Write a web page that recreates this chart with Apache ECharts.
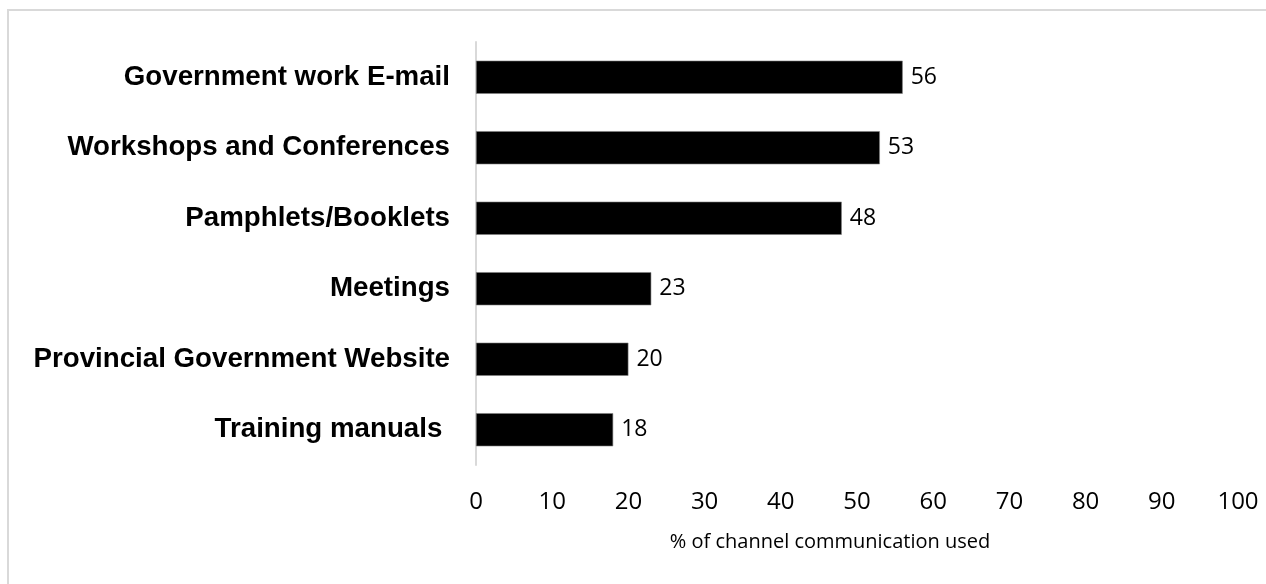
<!DOCTYPE html>
<html>
<head>
<meta charset="utf-8">
<title>Channels of communication used</title>
<script src="https://cdn.jsdelivr.net/npm/echarts@6/dist/echarts.min.js"></script>
<style>
  html, body { margin: 0; padding: 0; background: #ffffff; }
  #chart { width: 1266px; height: 584px; }
</style>
</head>
<body>
<div id="chart"></div>
<script>
// Communication channels, listed top to bottom
const channels = [
  'Government work E-mail',
  'Workshops and Conferences',
  'Pamphlets/Booklets',
  'Meetings',
  'Provincial Government Website',
  'Training manuals '
];
// Share of respondents using each channel (%)
const usage = [56, 53, 48, 23, 20, 18];
// Value axis ticks
const xTicks = [0, 10, 20, 30, 40, 50, 60, 70, 80, 90, 100];
const xTitle = '% of channel communication used';

const chart = echarts.init(document.getElementById('chart'), null, { renderer: 'canvas' });

chart.setOption({
  animation: false,
  backgroundColor: '#ffffff',
  grid: { left: 476, right: 28, top: 42, bottom: 119, containLabel: false },
  xAxis: {
    type: 'value',
    min: xTicks[0],
    max: xTicks[xTicks.length - 1],
    interval: xTicks[1] - xTicks[0],
    axisLine: { show: false },
    axisTick: { show: false },
    splitLine: { show: false },
    axisLabel: {
      margin: 25,
      fontFamily: 'Open Sans',
      fontSize: 24,
      lineHeight: 24,
      color: '#000000'
    }
  },
  yAxis: {
    type: 'category',
    data: channels,
    inverse: true,
    axisLine: { show: true, lineStyle: { color: '#d9d9d9', width: 2 } },
    axisTick: { show: false },
    axisLabel: {
      margin: 26,
      fontFamily: 'Liberation Sans, Arial, sans-serif',
      fontWeight: 'bold',
      fontSize: 27.7,
      color: '#000000'
    }
  },
  series: [{
    type: 'bar',
    data: usage,
    barCategoryGap: '53%',
    itemStyle: { color: '#000000', borderColor: '#7f7f7f', borderWidth: 0.6 },
    label: {
      show: true,
      position: 'right',
      distance: 8,
      fontFamily: 'Open Sans',
      fontSize: 23,
      color: '#000000'
    }
  }],
  graphic: [
    {
      type: 'rect',
      silent: true,
      shape: { x: 8, y: 10, width: 1280, height: 600 },
      style: { fill: 'none', stroke: '#d9d9d9', lineWidth: 2 }
    },
    {
      type: 'text',
      silent: true,
      x: 830,
      y: 542,
      style: {
        text: xTitle,
        fontFamily: 'Open Sans',
        fontSize: 20,
        fill: '#000000',
        align: 'center',
        verticalAlign: 'middle'
      }
    }
  ]
});
</script>
</body>
</html>
